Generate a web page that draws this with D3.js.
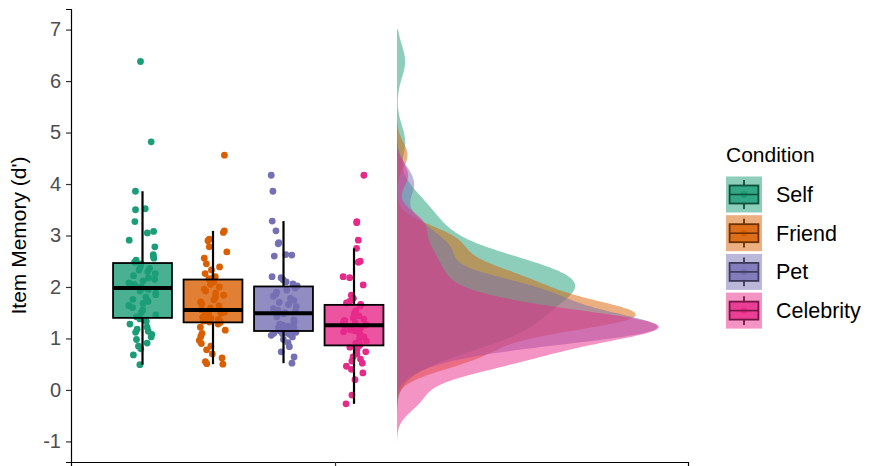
<!DOCTYPE html>
<html>
<head>
<meta charset="utf-8">
<script src="https://cdn.jsdelivr.net/npm/d3@7"></script>
<style>
  body { margin: 0; background: #fff; }
  svg { display: block; font-family: "Liberation Sans", Arial, sans-serif; }
</style>
</head>
<body>
<div id="chart"></div>
<script>
// Item memory (d') by condition: jittered points, boxplots and half densities

const conditions = ["Self", "Friend", "Pet", "Celebrity"];
const colors = ["#1B9E77", "#D95F02", "#7570B3", "#E7298A"];
const yTicks = [-1, 0, 1, 2, 3, 4, 5, 6, 7];

// values, one per participant
const selfVals = [6.38, 4.82, 3.86, 3.52, 3.50, 3.27, 3.08, 3.05, 2.91, 2.78, 2.63, 2.60, 2.56, 2.52,
  2.48, 2.45, 2.40, 2.36, 2.33, 2.30, 2.26, 2.22, 2.18, 2.15, 2.12, 2.08, 2.05, 2.02, 2.00,
  1.98, 1.95, 1.92, 1.88, 1.85, 1.80, 1.76, 1.72, 1.68, 1.64, 1.60, 1.55, 1.50, 1.46, 1.42,
  1.38, 1.33, 1.28, 1.22, 1.18, 1.14, 1.12, 1.08, 1.03, 0.98, 0.91, 0.85, 0.80, 0.68, 0.49];
const friendVals = [4.56, 3.09, 3.06, 2.93, 2.90, 2.78, 2.68, 2.56, 2.45, 2.39, 2.33, 2.26, 2.20, 2.18,
  2.16, 2.10, 2.05, 2.00, 1.96, 1.92, 1.88, 1.84, 1.80, 1.75, 1.71, 1.67, 1.63, 1.59, 1.56,
  1.55, 1.53, 1.51, 1.49, 1.47, 1.45, 1.43, 1.41, 1.39, 1.37, 1.35, 1.34, 1.33, 1.32, 1.31,
  1.28, 1.22, 1.16, 1.10, 1.04, 0.96, 0.90, 0.85, 0.78, 0.70, 0.62, 0.55, 0.51, 0.50];
const petVals = [4.17, 3.86, 3.28, 3.09, 2.86, 2.84, 2.63, 2.62, 2.60, 2.20, 2.18, 2.14, 2.10, 2.06,
  2.02, 1.98, 1.94, 1.90, 1.86, 1.82, 1.78, 1.74, 1.70, 1.66, 1.62, 1.58, 1.55, 1.52, 1.50,
  1.48, 1.42, 1.36, 1.31, 1.28, 1.26, 1.24, 1.23, 1.22, 1.21, 1.20, 1.19, 1.18, 1.16, 1.14,
  1.12, 1.12, 1.11, 1.10, 1.09, 1.08, 1.06, 1.03, 0.98, 0.92, 0.84, 0.74, 0.64, 0.52];
const celebrityVals = [4.17, 3.27, 3.25, 2.91, 2.75, 2.50, 2.48, 2.20, 2.18, 2.04, 1.84, 1.78, 1.72, 1.69,
  1.66, 1.63, 1.54, 1.48, 1.44, 1.40, 1.37, 1.35, 1.33, 1.31, 1.30, 1.29, 1.28, 1.27, 1.26,
  1.25, 1.23, 1.21, 1.19, 1.17, 1.15, 1.13, 1.10, 1.07, 1.03, 0.99, 0.95, 0.91, 0.88, 0.86,
  0.83, 0.78, 0.74, 0.70, 0.64, 0.60, 0.56, 0.52, 0.46, 0.40, 0.33, 0.20, -0.10, -0.27];

const series = [selfVals, friendVals, petVals, celebrityVals];

const width = 869, height = 466;
const margin = { top: 9, right: 181, bottom: 4, left: 71 };
const panelW = width - margin.left - margin.right;
const panelH = height - margin.top - margin.bottom;

// layout in x data units (one category at x = 1)
const boxNudge = -0.28, dodgeWidth = 0.91, boxWidth = 0.19;
const violinNudge = 0.2, violinWidth = 0.845, jitterWidth = 0.045;

const svg = d3.select("#chart").append("svg")
  .attr("width", width).attr("height", height);

const chart = svg.append("g").attr("transform", `translate(${margin.left},${margin.top})`);

const yLimits = [-1, 7];
const yPad = (yLimits[1] - yLimits[0]) * 0.05;
const y = d3.scaleLinear().domain([yLimits[0] - yPad, yLimits[1] + yPad]).range([panelH, 0]);
const x = d3.scaleLinear().domain([0.148, 2.139]).range([0, panelW]);

const boxCenter = i => 1 + boxNudge + (i - 1.5) * dodgeWidth / 4;

// kernel density, gaussian, R's bw.nrd0, over the y limits
function kde(vals) {
  const s = vals.slice().sort(d3.ascending);
  const n = s.length;
  const iqr = d3.quantile(s, 0.75) - d3.quantile(s, 0.25);
  const bw = 0.9 * Math.min(d3.deviation(s), iqr / 1.34) * Math.pow(n, -0.2);
  const grid = d3.range(512).map(i => yLimits[0] + i * (yLimits[1] - yLimits[0]) / 511);
  return grid.map(g => {
    let sum = 0;
    for (const v of s) { const z = (g - v) / bw; sum += Math.exp(-0.5 * z * z); }
    return { y: g, d: sum / (n * bw * Math.sqrt(2 * Math.PI)) };
  });
}

const densities = series.map(kde);
const dMax = d3.max(densities, ds => d3.max(ds, p => p.d));
const dScale = violinWidth / dMax;

// densities (flat half violins)
const area = d3.area()
  .curve(d3.curveLinear)
  .y(p => y(p.y))
  .x0(x(1 + violinNudge))
  .x1(p => x(1 + violinNudge + p.d * dScale));

chart.selectAll(".dens")
  .data(densities)
  .join("path")
    .attr("class", "dens")
    .attr("d", area)
    .attr("fill", (d, i) => colors[i])
    .attr("fill-opacity", 0.5);

// jittered points
const jitter = d3.randomUniform.source(d3.randomLcg(0.4217))(-jitterWidth, jitterWidth);
series.forEach((vals, i) => {
  chart.append("g")
    .selectAll("circle")
    .data(vals)
    .join("circle")
      .attr("cx", () => x(boxCenter(i) + jitter()))
      .attr("cy", v => y(v))
      .attr("r", 3.4)
      .attr("fill", colors[i]);
});

// boxplots
series.forEach((vals, i) => {
  const s = vals.slice().sort(d3.ascending);
  const q1 = d3.quantile(s, 0.25), med = d3.quantile(s, 0.5), q3 = d3.quantile(s, 0.75);
  const iqr = q3 - q1;
  const hi = d3.max(s.filter(v => v <= q3 + 1.5 * iqr));
  const lo = d3.min(s.filter(v => v >= q1 - 1.5 * iqr));
  const cx = x(boxCenter(i));
  const x0 = x(boxCenter(i) - boxWidth / 2), x1 = x(boxCenter(i) + boxWidth / 2);
  const g = chart.append("g");
  g.append("line").attr("x1", cx).attr("x2", cx).attr("y1", y(hi)).attr("y2", y(q3))
    .attr("stroke", "#000").attr("stroke-width", 2.2);
  g.append("line").attr("x1", cx).attr("x2", cx).attr("y1", y(q1)).attr("y2", y(lo))
    .attr("stroke", "#000").attr("stroke-width", 2.2);
  g.append("rect")
    .attr("x", x0).attr("y", y(q3))
    .attr("width", x1 - x0).attr("height", y(q1) - y(q3))
    .attr("fill", colors[i]).attr("fill-opacity", 0.8)
    .attr("stroke", "#000").attr("stroke-width", 1.8);
  g.append("line").attr("x1", x0).attr("x2", x1).attr("y1", y(med)).attr("y2", y(med))
    .attr("stroke", "#000").attr("stroke-width", 4);
});

// axes
const yAxis = chart.append("g")
  .call(d3.axisLeft(y).tickValues(yTicks).tickSize(5).tickPadding(5).tickFormat(d => String(d)));
yAxis.select(".domain").attr("stroke", "#000").attr("stroke-width", 1.2);
yAxis.selectAll(".tick line").attr("stroke", "#333").attr("stroke-width", 1.2);
yAxis.selectAll(".tick text")
  .attr("fill", "#4D4D4D").style("font-size", "20px").style("font-family", "Liberation Sans, Arial, sans-serif");

const xAxis = chart.append("g")
  .attr("transform", `translate(0,${panelH})`)
  .call(d3.axisBottom(x).tickValues([1]).tickSize(5).tickFormat(""));
xAxis.select(".domain").attr("stroke", "#000").attr("stroke-width", 1.2);
xAxis.selectAll(".tick line").attr("stroke", "#333").attr("stroke-width", 1.2);

svg.append("text")
  .attr("transform", `translate(26, ${margin.top + panelH / 2}) rotate(-90)`)
  .attr("text-anchor", "middle")
  .attr("fill", "#000")
  .style("font-size", "21px")
  .text("Item Memory (d')");

// legend
const legend = svg.append("g").attr("transform", "translate(726, 0)");
legend.append("text")
  .attr("x", 0).attr("y", 162)
  .style("font-size", "21px")
  .attr("fill", "#000")
  .text("Condition");

const key = 36, keyStep = 38.7, keyTop = 176.5;
conditions.forEach((c, i) => {
  const k = legend.append("g").attr("transform", `translate(0, ${keyTop + i * keyStep})`);
  // boxplot glyph
  k.append("line").attr("x1", key / 2).attr("x2", key / 2).attr("y1", key * 0.1).attr("y2", key * 0.25)
    .attr("stroke", "#000").attr("stroke-width", 1.8);
  k.append("line").attr("x1", key / 2).attr("x2", key / 2).attr("y1", key * 0.75).attr("y2", key * 0.9)
    .attr("stroke", "#000").attr("stroke-width", 1.8);
  k.append("rect")
    .attr("x", key * 0.1).attr("y", key * 0.25)
    .attr("width", key * 0.8).attr("height", key * 0.5)
    .attr("fill", colors[i]).attr("fill-opacity", 0.8)
    .attr("stroke", "#000").attr("stroke-width", 1.8);
  k.append("circle").attr("cx", key / 2).attr("cy", key / 2).attr("r", 3.4).attr("fill", colors[i]);
  k.append("line").attr("x1", key * 0.1).attr("x2", key * 0.9).attr("y1", key / 2).attr("y2", key / 2)
    .attr("stroke", "#000").attr("stroke-width", 1.6);
  // density key on top
  k.append("rect").attr("width", key).attr("height", key)
    .attr("fill", colors[i]).attr("fill-opacity", 0.5);
  k.append("text")
    .attr("x", 50).attr("y", key / 2)
    .attr("dy", "0.35em")
    .style("font-size", "21.5px")
    .attr("fill", "#000")
    .text(c);
});
</script>
</body>
</html>
